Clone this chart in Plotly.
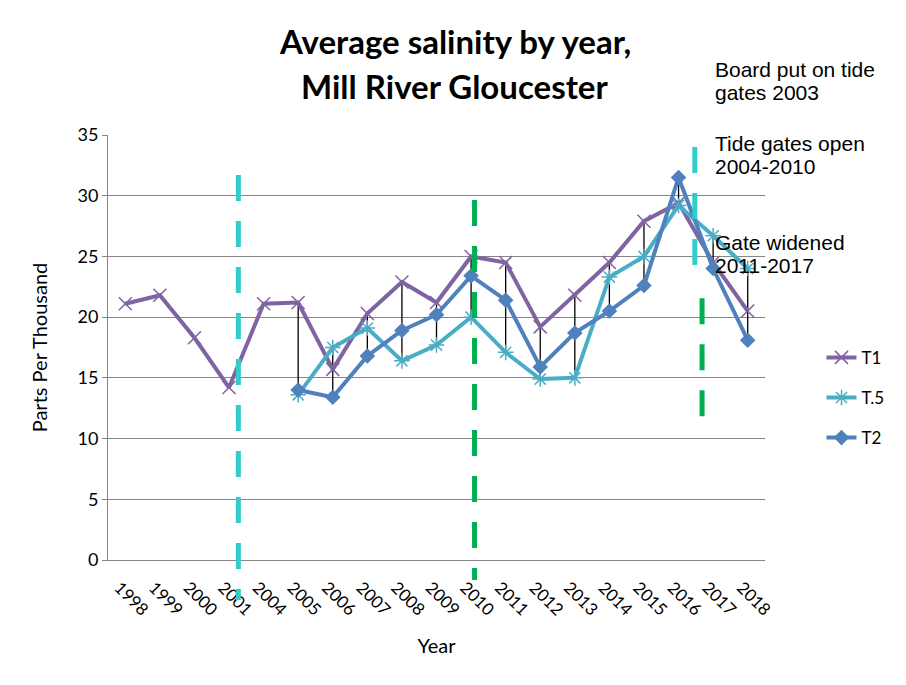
import plotly.graph_objects as go

years = ["1998", "1999", "2000", "2001", "2004", "2005", "2006", "2007", "2008", "2009",
         "2010", "2011", "2012", "2013", "2014", "2015", "2016", "2017", "2018"]
t1 = [21.1, 21.8, 18.3, 14.2, 21.1, 21.2, 15.7, 20.3, 22.9, 21.2,
      25.0, 24.5, 19.2, 21.8, 24.5, 27.9, 29.4, 24.5, 20.5]
t05 = [None, None, None, None, None, 13.6, 17.5, 19.1, 16.4, 17.7,
       20.0, 17.1, 14.9, 15.0, 23.3, 25.0, 29.2, 26.7, 24.0]
t2 = [None, None, None, None, None, 14.0, 13.4, 16.8, 18.9, 20.2,
      23.4, 21.4, 15.9, 18.7, 20.5, 22.6, 31.5, 24.0, 18.1]

title_lines = ["Average salinity by year,", "Mill River Gloucester"]
note_lines = ["Board put on tide", "gates 2003", "Tide gates open", "2004-2010",
              "Gate widened", "2011-2017"]

# high-low lines derived from the series
hl_x, hl_y = [], []
for i, yr in enumerate(years):
    vals = [v for v in (t1[i], t05[i], t2[i]) if v is not None]
    if len(vals) > 1:
        hl_x += [yr, yr, None]
        hl_y += [max(vals), min(vals), None]

fig = go.Figure()
fig.add_trace(go.Scatter(x=hl_x, y=hl_y, mode="lines", line=dict(color="black", width=1.3),
                         showlegend=False, hoverinfo="skip"))
fig.add_trace(go.Scatter(x=years, y=t1, name="T1", mode="lines+markers",
                         line=dict(color="#7F63A2", width=4),
                         marker=dict(symbol="x-thin-open", size=13, line=dict(color="#7F63A2", width=1.5)),
                         legendgroup="a"))
fig.add_trace(go.Scatter(x=years, y=t05, name="T.5", mode="lines+markers",
                         line=dict(color="#4BACC6", width=4),
                         marker=dict(symbol="asterisk-open", size=13, line=dict(color="#4BACC6", width=1.5)),
                         legendgroup="b"))
fig.add_trace(go.Scatter(x=years, y=t2, name="T2", mode="lines+markers",
                         line=dict(color="#4F81BD", width=4),
                         marker=dict(symbol="diamond", size=12, color="#4F81BD"),
                         legendgroup="c"))

dash = "26px,20px"
vlines = [
    (3.27, -0.094, 0.906, "#33CCCC"),
    (10.1, -0.047, 0.847, "#00B050"),
    (16.47, 0.687, 0.972, "#33CCCC"),
    (16.68, 0.336, 0.616, "#00B050"),
]
shapes = []
for xv, y0, y1, col in vlines:
    shapes.append(dict(type="line", xref="x", yref="paper", x0=xv, x1=xv, y0=y1, y1=y0,
                       line=dict(color=col, width=5, dash=dash), layer="above"))

annotations = []
title_font = dict(family="Lato, Liberation Sans", size=33, color="black")
for txt, yv in zip(title_lines, [1.222, 1.116]):
    annotations.append(dict(text="<b>" + txt + "</b>", xref="paper", yref="paper", x=0.528, y=yv,
                            xanchor="center", yanchor="middle", showarrow=False, font=title_font))
note_font = dict(family="Liberation Sans, Arial", size=21, color="black")
for txt, yv in zip(note_lines, [1.155, 1.099, 0.981, 0.925, 0.748, 0.692]):
    annotations.append(dict(text=txt, xref="paper", yref="paper", x=0.921, y=yv,
                            xanchor="left", yanchor="middle", align="left", showarrow=False, font=note_font))

fig.update_layout(
    width=898, height=677,
    margin=dict(l=100, r=141, t=127, b=125),
    paper_bgcolor="white", plot_bgcolor="white",
    xaxis=dict(type="category", categoryorder="array", categoryarray=years,
               range=[-0.5, 18.5], showline=True, linecolor="#868686", linewidth=1,
               showgrid=False, ticks="", tickangle=45, ticklabelshift=-6, ticklabelstandoff=10,
               tickfont=dict(family="Lato, Liberation Sans", size=17, color="black"),
               title=dict(text="Year", font=dict(family="Lato, Liberation Sans", size=20, color="black"), standoff=20)),
    yaxis=dict(range=[0, 35], dtick=5, showline=True, linecolor="#868686", linewidth=1,
               showgrid=True, gridcolor="#868686", gridwidth=1, zeroline=False,
               ticks="outside", ticklen=5, tickcolor="#868686",
               tickfont=dict(family="Lato, Liberation Sans", size=18, color="black"),
               title=dict(text="Parts Per Thousand", font=dict(family="Lato, Liberation Sans", size=20, color="black"), standoff=24)),
    legend=dict(x=1.086, y=0.518, xanchor="left", yanchor="top", tracegroupgap=15,
                font=dict(family="Lato, Liberation Sans", size=17, color="black"),
                bgcolor="rgba(0,0,0,0)"),
    shapes=shapes, annotations=annotations,
)

fig.write_html("out.html")
